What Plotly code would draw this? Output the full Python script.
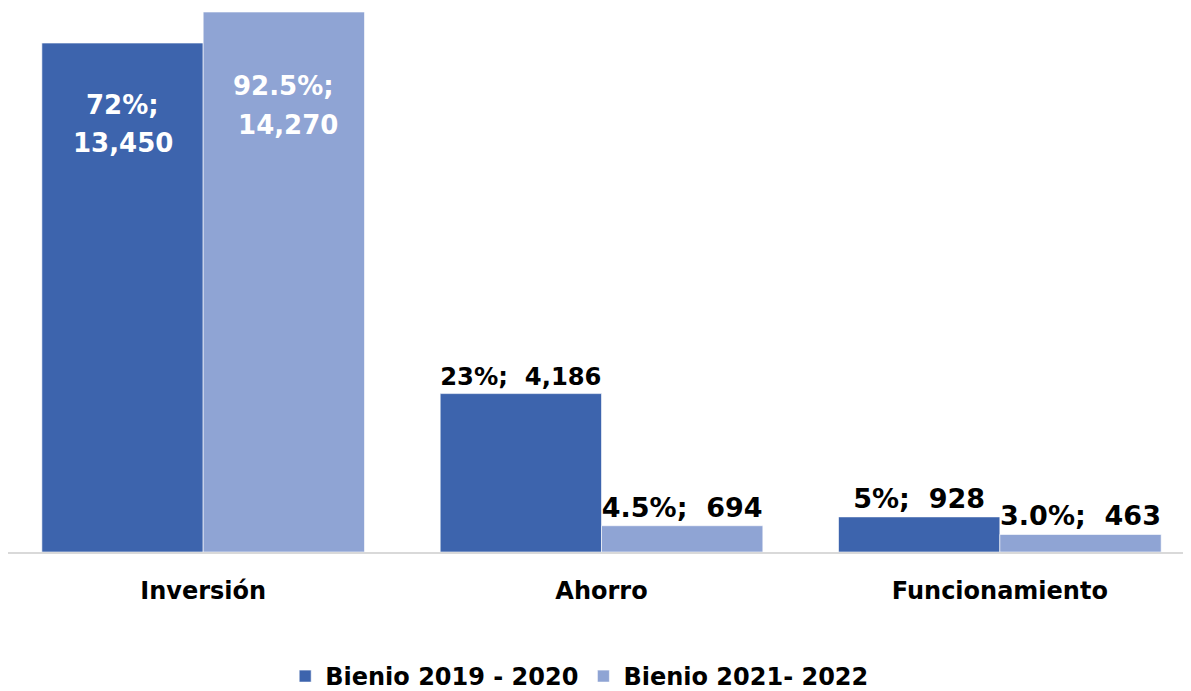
import plotly.graph_objects as go

categories = ["Inversión", "Ahorro", "Funcionamiento"]
series_names = ["Bienio 2019 - 2020", "Bienio 2021- 2022"]
values_2019 = [13450, 4186, 928]
values_2021 = [14270, 694, 463]
pct_2019 = ["72%", "23%", "5%"]
pct_2021 = ["92.5%", "4.5%", "3.0%"]

colors = ["#3D64AD", "#8FA4D4"]
FONT = "DejaVu Sans"
FIG_W = 1191
BARGAP = 0.19
X_RANGE = [-0.49, 2.5]

fig = go.Figure()
series = [
    (series_names[0], values_2019, pct_2019, colors[0]),
    (series_names[1], values_2021, pct_2021, colors[1]),
]
for name, vals, pcts, col in series:
    texts = ["" if i == 0 else f"{p};  {v:,}" for i, (p, v) in enumerate(zip(pcts, vals))]
    fig.add_trace(go.Bar(
        x=categories, y=vals, name=name,
        marker=dict(color=col, line=dict(color="rgba(255,255,255,0.6)", width=1)),
        text=texts,
        textposition="outside",
        textangle=0,
        outsidetextfont=dict(family=FONT, size=27, color="black", weight="bold"),
        cliponaxis=False,
    ))

# inside labels for the first category (white, two lines)
cat_px = FIG_W / (X_RANGE[1] - X_RANGE[0])
half_bar = cat_px * (1 - BARGAP) / 4
line_shifts = [(-62, -100), (-74, -113)]
line2_prefix = ["", " "]
for k, (name, vals, pcts, col) in enumerate(series):
    xs = (-1 if k == 0 else 1) * half_bar
    s1, s2 = line_shifts[k]
    for txt, ys in [(pcts[0] + ";", s1), (line2_prefix[k] + f"{vals[0]:,}", s2)]:
        fig.add_annotation(
            x=categories[0], y=vals[0], xref="x", yref="y",
            text=txt, showarrow=False, xshift=xs, yshift=ys,
            xanchor="center", yanchor="middle",
            font=dict(family=FONT, size=26, color="white", weight="bold"),
        )

fig.update_layout(
    width=FIG_W, height=691,
    margin=dict(l=0, r=0, t=0, b=146),
    barmode="group", bargap=BARGAP, bargroupgap=0,
    plot_bgcolor="white", paper_bgcolor="white",
    font=dict(family=FONT, color="black"),
    showlegend=True,
    legend=dict(orientation="h", x=0.48, xanchor="center", y=-0.229, yanchor="middle",
                font=dict(family=FONT, size=24, color="black", weight="bold"),
                traceorder="normal"),
)
fig.update_xaxes(
    range=X_RANGE,
    showline=True, linecolor="#D9D9D9", linewidth=2,
    showgrid=False, ticks="", ticklabelstandoff=16,
    tickfont=dict(family=FONT, size=24, color="black", weight="bold"),
)
fig.update_yaxes(visible=False, range=[0, 14376], showgrid=False)

fig.write_html("out.html")
